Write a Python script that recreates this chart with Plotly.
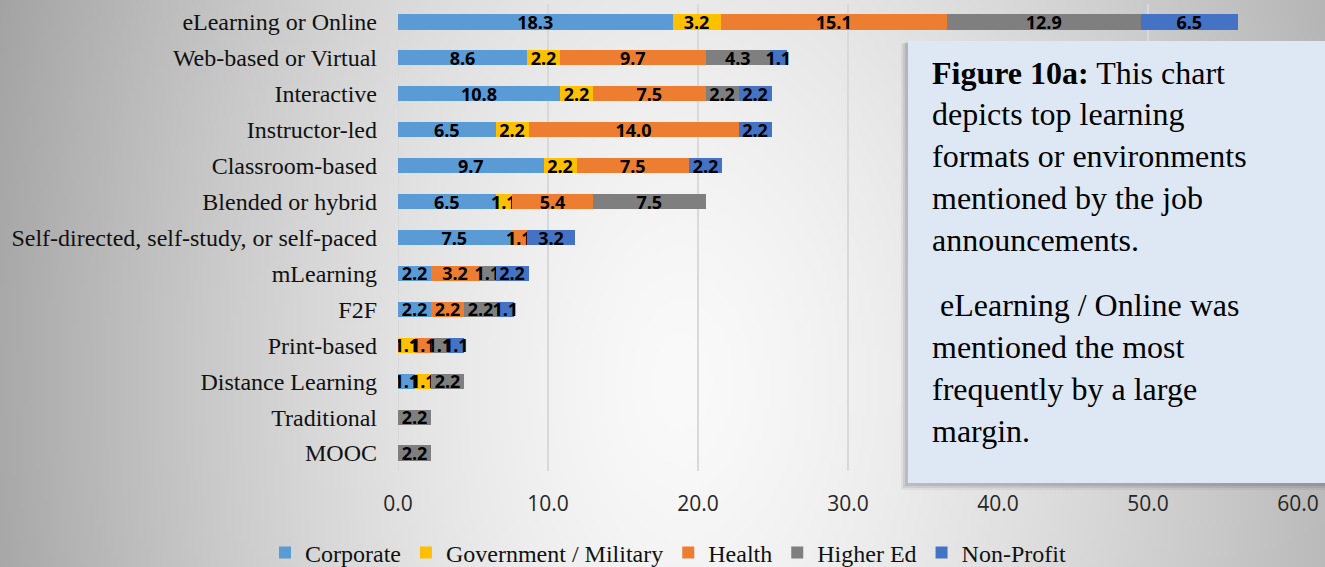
import base64, struct, zlib
import numpy as np
import plotly.graph_objects as go

categories = ["eLearning or Online", "Web-based or Virtual", "Interactive", "Instructor-led",
              "Classroom-based", "Blended or hybrid", "Self-directed, self-study, or self-paced",
              "mLearning", "F2F", "Print-based", "Distance Learning", "Traditional", "MOOC"]
corporate  = [18.3, 8.6, 10.8, 6.5, 9.7, 6.5, 7.5, 2.2, 2.2, 0.0, 1.1, 0.0, 0.0]
government = [3.2, 2.2, 2.2, 2.2, 2.2, 1.1, 0.0, 0.0, 0.0, 1.1, 1.1, 0.0, 0.0]
health     = [15.1, 9.7, 7.5, 14.0, 7.5, 5.4, 1.1, 3.2, 2.2, 1.1, 0.0, 0.0, 0.0]
higher_ed  = [12.9, 4.3, 2.2, 0.0, 0.0, 7.5, 0.0, 1.1, 2.2, 1.1, 2.2, 2.2, 2.2]
non_profit = [6.5, 1.1, 2.2, 2.2, 2.2, 0.0, 3.2, 2.2, 1.1, 1.1, 0.0, 0.0, 0.0]
series_names = ["Corporate", "Government / Military", "Health", "Higher Ed", "Non-Profit"]
x_ticks = [0, 10, 20, 30, 40, 50, 60]

colors = ["#5B9BD5", "#FFC000", "#ED7D31", "#7F7F7F", "#4472C4"]

W, H = 1325, 567
L, R, T, B = 398, 27, 4, 96
PW, PH = W - L - R, H - T - B


def px2x(px):
    return (px - L) / PW


def px2y(py):
    return (H - B - py) / PH


# background radial gradient image
GW, GH = 332, 142
xs = (np.arange(GW) + 0.5) / GW * W
ys = (np.arange(GH) + 0.5) / GH * H
X, Y = np.meshgrid(xs, ys)
cx, cy = 680.0, 380.0
rx = np.where(X < cx, 700.0, 800.0)
ry = 1200.0
t = np.sqrt(((X - cx) / rx) ** 2 + ((Y - cy) / ry) ** 2)
t = np.minimum(t, 1.1)
v = np.clip(250 - 85 * t ** 1.4, 0, 255).astype(np.uint8)
raw = b"".join(b"\x00" + v[j].tobytes() for j in range(GH))


def chunk(tag, data):
    return struct.pack(">I", len(data)) + tag + data + struct.pack(">I", zlib.crc32(tag + data) & 0xFFFFFFFF)


png = (b"\x89PNG\r\n\x1a\n" + chunk(b"IHDR", struct.pack(">IIBBBBB", GW, GH, 8, 0, 0, 0, 0))
       + chunk(b"IDAT", zlib.compress(raw, 9)) + chunk(b"IEND", b""))
bg_uri = "data:image/png;base64," + base64.b64encode(png).decode()

fig = go.Figure()
for name, vals, col in zip(series_names, [corporate, government, health, higher_ed, non_profit], colors):
    fig.add_trace(go.Bar(
        y=categories, x=vals, name=name, orientation="h",
        marker=dict(color=col, line=dict(width=0)),
        text=[f"{val:.1f}" if val > 0 else "" for val in vals],
        textposition="inside", insidetextanchor="middle", textangle=0,
        constraintext="none",
        textfont=dict(family="Open Sans", size=18, color="black", weight="bold"),
        hoverinfo="skip",
    ))

shapes = []
# shadow of text box
for off, op in [(7, 0.05), (5, 0.07), (3, 0.09)]:
    shapes.append(dict(type="rect", xref="paper", yref="paper",
                       x0=px2x(908 - off), x1=px2x(1340), y0=px2y(483 + off), y1=px2y(41 + off * 0.4),
                       fillcolor=f"rgba(0,0,0,{op})", line=dict(width=0), layer="above"))
shapes.append(dict(type="rect", xref="paper", yref="paper",
                   x0=px2x(908), x1=px2x(1340), y0=px2y(483), y1=px2y(41),
                   fillcolor="#DEE8F4", line=dict(width=0), layer="above"))
# zero line drawn in gridline colour
shapes.append(dict(type="line", xref="x", yref="paper", x0=0, x1=0, y0=0, y1=1,
                   line=dict(color="#D9D9D9", width=2), layer="below"))

lines = [("<b>Figure 10a:</b> This chart", 930, 73),
         ("depicts top learning", 930, 114),
         ("formats or environments", 930, 156),
         ("mentioned by the job", 930, 198),
         ("announcements.", 930, 240),
         (" eLearning / Online was", 930, 305),
         ("mentioned the most", 930, 347),
         ("frequently by a large", 930, 389),
         ("margin.", 930, 431)]
annotations = []
for txt, lx, ly in lines:
    annotations.append(dict(text=txt, xref="paper", yref="paper", x=px2x(lx), y=px2y(ly),
                            xanchor="left", yanchor="middle", showarrow=False,
                            font=dict(family="Liberation Serif", size=32, color="black")))

fig.update_layout(
    width=W, height=H,
    margin=dict(l=L, r=R, t=T, b=B, pad=0, autoexpand=False),
    barmode="stack", bargap=0.58,
    paper_bgcolor="#b8b8b8", plot_bgcolor="rgba(0,0,0,0)",
    images=[dict(source=bg_uri, xref="paper", yref="paper", x=px2x(-5), y=px2y(-5),
                 sizex=(W + 10) / PW, sizey=(H + 10) / PH, xanchor="left", yanchor="top",
                 sizing="stretch", layer="below")],
    xaxis=dict(range=[0, 60], tickvals=x_ticks, tickformat=".1f", showgrid=True,
               gridcolor="#D9D9D9", gridwidth=2, zeroline=False, showline=False,
               tickfont=dict(family="Open Sans", size=21, color="#262626"),
               ticklabelstandoff=18, fixedrange=True, automargin=False),
    yaxis=dict(autorange="reversed", showgrid=False, zeroline=False, showline=False,
               tickfont=dict(family="Liberation Serif", size=24, color="#111111"),
               ticklabelstandoff=20, fixedrange=True, automargin=False),
    shapes=shapes, annotations=annotations,
    legend=dict(orientation="h", x=px2x(668), y=px2y(553), xanchor="center", yanchor="middle",
                font=dict(family="Liberation Serif", size=24, color="#111111"),
                bgcolor="rgba(0,0,0,0)", traceorder="normal", itemwidth=30),
    showlegend=True,
)

fig.write_html("out.html")
